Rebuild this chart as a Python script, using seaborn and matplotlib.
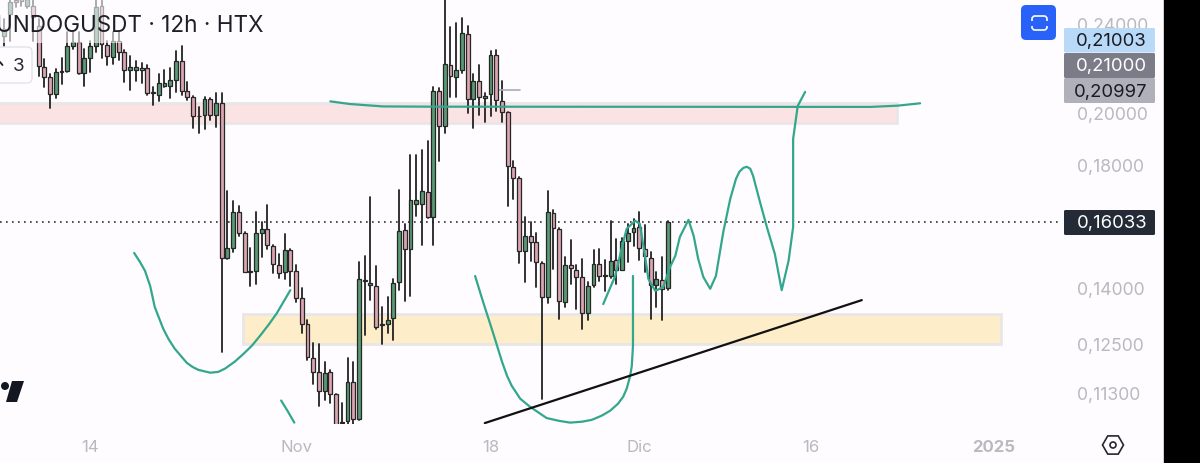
import numpy as np
import pandas as pd
import seaborn as sns
import matplotlib.pyplot as plt
from matplotlib.patches import Rectangle, FancyBboxPatch, Polygon, RegularPolygon, Circle

# candles, 12h, one value per bar
opens = [.2340,.2448,.2519,.2524,.2489,.2489,.2389,.2197,.2153,.2079,.2175,.2180,.2293,.2311,.2171,.2238,.2293,.2489,.2297,.2242,
         .2316,.2265,.2184,.2184,.2193,.2193,.2084,.2075,.2114,.2114,.2140,.2224,.2092,.2067,.1988,.1992,.2058,.1992,.2042,.1488,
         .1519,.1634,.1566,.1448,.1448,.1566,.1579,.1526,.1467,.1445,.1513,.1449,.1370,.1301,.1213,.1178,.1133,.1178,.1126,.1064,
         .1066,.1155,.1071,.1419,.1407,.1404,.1300,.1301,.1316,.1416,.1574,.1514,.1662,.1661,.1701,.1617,.2090,.1948,.2208,.2154,
         .2183,.2350,.2058,.2134,.2061,.2079,.2253,.2051,.2003,.1793,.1750,.1508,.1556,.1537,.1473,.1373,.1630,.1579,.1361,.1465,
         .1453,.1430,.1330,.1408,.1470,.1436,.1434,.1480,.1453,.1540,.1570,.1584,.1516,.1487,.1408,.1423,.1399]
highs = [.2423,.2524,.2524,.2530,.2530,.2524,.2423,.2233,.2166,.2188,.2238,.2359,.2359,.2359,.2279,.2316,.2524,.2524,.2316,.2359,
         .2359,.2274,.2247,.2224,.2215,.2206,.2110,.2166,.2184,.2193,.2270,.2293,.2131,.2071,.2025,.2067,.2062,.2084,.2084,.1706,
         .1671,.1655,.1568,.1519,.1634,.1601,.1658,.1527,.1500,.1563,.1514,.1465,.1399,.1312,.1251,.1249,.1203,.1184,.1127,.1107,
         .1214,.1204,.1475,.1495,.1685,.1462,.1347,.1374,.1425,.1710,.1595,.1837,.1837,.1855,.1888,.2108,.2104,.2560,.2382,.2403,
         .2427,.2387,.2166,.2208,.2083,.2272,.2276,.2137,.2005,.1812,.1754,.1617,.1602,.1565,.1474,.1707,.1642,.1580,.1492,.1542,
         .1467,.1485,.1416,.1511,.1514,.1482,.1604,.1547,.1549,.1595,.1611,.1633,.1592,.1507,.1445,.1490,.1604]
lows = [.2293,.2316,.2484,.2489,.2479,.2316,.2157,.2110,.2021,.2062,.2122,.2175,.2279,.2166,.2114,.2175,.2265,.2238,.2206,.2211,
        .2229,.2131,.2097,.2135,.2127,.2075,.2033,.2050,.2110,.2062,.2088,.2075,.2054,.1940,.1921,.1936,.1972,.1944,.1229,.1486,
        .1507,.1557,.1446,.1405,.1411,.1491,.1516,.1443,.1427,.1425,.1404,.1360,.1277,.1209,.1151,.1100,.1114,.1107,.1050,.1048,
        .1060,.1060,.1069,.1272,.1365,.1287,.1249,.1277,.1259,.1394,.1363,.1376,.1620,.1529,.1613,.1529,.1814,.1920,.2065,.2068,
        .2171,.1998,.1939,.1993,.1963,.1987,.2010,.1963,.1655,.1678,.1473,.1417,.1478,.1403,.1116,.1357,.1455,.1314,.1346,.1411,
        .1341,.1286,.1310,.1401,.1418,.1390,.1428,.1411,.1453,.1475,.1526,.1480,.1447,.1314,.1347,.1310,.1394]
closes = [.2374,.2509,.2509,.2514,.2524,.2433,.2202,.2153,.2079,.2175,.2179,.2293,.2311,.2171,.2238,.2293,.2484,.2302,.2247,.2316,
          .2265,.2184,.2197,.2197,.2184,.2084,.2086,.2127,.2127,.2140,.2224,.2092,.2067,.1988,.1986,.2058,.1992,.2042,.1488,.1519,
          .1634,.1566,.1447,.1447,.1566,.1579,.1528,.1470,.1443,.1513,.1449,.1371,.1301,.1216,.1179,.1134,.1177,.1127,.1056,.1062,
          .1155,.1071,.1425,.1421,.1413,.1293,.1298,.1312,.1413,.1573,.1514,.1675,.1676,.1705,.1617,.2090,.1948,.2211,.2157,.2184,
          .2354,.2058,.2134,.2065,.2072,.2253,.2054,.2006,.1794,.1750,.1508,.1556,.1537,.1475,.1373,.1634,.1581,.1362,.1465,.1457,
          .1430,.1330,.1406,.1470,.1433,.1434,.1478,.1452,.1540,.1566,.1583,.1519,.1493,.1409,.1425,.1397,.1600]

# hand drawn teal lines (bar position, price)
curve_a_x = [22.7,23.7,24.6,25.5,26.3,27.1,27.8,28.7,29.8,31.9,32.9,33.9,36.0,37.4,38.6,40.3,41.8,43.3,44.7,46.2,47.6,48.8,50.0]
curve_a_y = [.1503,.1476,.1449,.1405,.1346,.1314,.1287,.1261,.1236,.1201,.1191,.1184,.1177,.1179,.1187,.1204,.1223,.1244,.1269,.1298,.1328,.1360,.1393]
curve_b_x = [48.4,49.5,50.7]
curve_b_y = [.1112,.1089,.1063]
curve_c_x = [82.3,83.7,85.5,87.0,87.9,88.7,90.2,91.9,93.4,94.8,96.9,98.9,101.0,102.7,104.4,105.9,107.3,108.2,108.8,109.4,109.7,109.9,109.9,109.9]
curve_c_y = [.1434,.1360,.1274,.1204,.1169,.1146,.1116,.1098,.1085,.1073,.1067,.1063,.1065,.1069,.1078,.1089,.1105,.1121,.1139,.1169,.1194,.1244,.1360,.1434]
curve_d_x = [104.7,106.8,107.9,108.8,110.3,111.1,112.0,112.6,113.8,115.2,116.4,117.3,118.1,119.6,120.5,121.3,122.2,123.4,
             124.4,125.7,126.9,127.9,128.5,129.2,129.8,130.4,130.9,132.1,133.3,134.7,135.9,137.1,137.9,137.9,138.7,140.0]
curve_d_y = [.1354,.1434,.1516,.1579,.1605,.1595,.1494,.1425,.1391,.1402,.1461,.1494,.1553,.1608,.1557,.1485,.1431,.1397,
             .1434,.1570,.1678,.1748,.1774,.1788,.1792,.1785,.1759,.1668,.1585,.1500,.1393,.1479,.1585,.1897,.2029,.2088]
curve_e_x = [57.0,60.4,66.2,74.4,151.4,156.1,160.1]
curve_e_y = [.2048,.2037,.2027,.2026,.2025,.2030,.2040]

trend_x = [84.0,149.9]
trend_y = [.1062,.1365]
mark_x = [86.1,90.2]
mark_y = [.2097,.2097]

# zones: first bar, last bar, low, high
red_zone = [-3,156.1,.1959,.2043]
yellow_zone = [41.7,174.2,.1248,.1326]
last_price = .1600

y_ticks = [.24,.20,.18,.14,.125,.113]
y_labels = ['0,24000','0,20000','0,18000','0,14000','0,12500','0,11300']
x_ticks = [15,51,85,111,141,173]
x_labels = ['14','Nov','18','Dic','16','2025']

BG = '#fefcfe'
TEAL = '#33a68e'
GREY = '#b9b9be'

sns.set_theme(style='white')
plt.rcParams['font.family'] = ['Inter', 'DejaVu Sans']

fig = plt.figure(figsize=(12, 4.64), dpi=100, facecolor=BG)
ax = fig.add_axes([0, 1 - 425 / 464, 1062 / 1200, 425 / 464], facecolor=BG)
ax.set_yscale('log')

# zones
for zone, face in [(red_zone, '#fce3e3'), (yellow_zone, '#fdeec9')]:
    ax.add_patch(Rectangle((zone[0], zone[2]), zone[1] - zone[0], zone[3] - zone[2],
                           facecolor=face, edgecolor='#e8e6e8', linewidth=2, zorder=1))

ax.axhline(last_price, color='#333333', linestyle=(0, (1, 2.6)), linewidth=1.2, zorder=2)

# wicks and bodies
df = pd.DataFrame({'open': opens, 'high': highs, 'low': lows, 'close': closes})
df['bar'] = df.index
wicks = df.melt(id_vars='bar', value_vars=['high', 'low'], value_name='price')
sns.lineplot(data=wicks, x='bar', y='price', units='bar', estimator=None, sort=False,
             color='#222222', linewidth=1.3, zorder=3, legend=False, ax=ax)
colors = np.where(df['close'] >= df['open'], '#5a9a74', '#dba6b2')
bottoms = df[['open', 'close']].min(axis=1)
heights = (df['close'] - df['open']).abs()
ax.bar(df['bar'], heights, bottom=bottoms, width=0.68, color=colors,
       edgecolor='#262626', linewidth=0.9, zorder=4)

# drawings
for cx, cy in [(curve_a_x, curve_a_y), (curve_b_x, curve_b_y), (curve_c_x, curve_c_y),
               (curve_d_x, curve_d_y), (curve_e_x, curve_e_y)]:
    sns.lineplot(x=cx, y=cy, sort=False, estimator=None, color=TEAL, linewidth=1.6, zorder=5, ax=ax)
sns.lineplot(x=trend_x, y=trend_y, sort=False, estimator=None, color='#111111', linewidth=1.6, zorder=6, ax=ax)
sns.lineplot(x=mark_x, y=mark_y, sort=False, estimator=None, color='#a3adba', linewidth=1.2, zorder=3, ax=ax)

ax.set_xlim(-0.752, 184.9)
ax.set_ylim(.1060, .2524)
ax.set_xlabel('')
ax.set_ylabel('')
ax.yaxis.tick_right()
ax.set_yticks(y_ticks)
ax.set_yticklabels(y_labels)
ax.minorticks_off()
ax.set_xticks(x_ticks)
ax.set_xticklabels(x_labels)
ax.tick_params(axis='y', length=0, pad=10.5, labelsize=12.7, labelcolor=GREY)
ax.tick_params(axis='x', length=0, pad=11, labelsize=12, labelcolor=GREY)
ax.get_xticklabels()[-1].set_fontweight('bold')
sns.despine(ax=ax, left=True, bottom=True, right=True, top=True)

# app chrome on top, in pixels
ui = fig.add_axes([0, 0, 1, 1], facecolor='none', zorder=10)
ui.set_xlim(0, 1200)
ui.set_ylim(464, 0)
ui.axis('off')

ui.add_patch(Rectangle((0, 0), 268, 44, facecolor=BG, alpha=0.6, edgecolor='none'))
ui.text(-4.5, 26, 'UNDOGUSDT · 12h · HTX', fontsize=16.2, color='#1e1f26', va='center', ha='left')
ui.add_patch(FancyBboxPatch((-12, 48), 44, 36, boxstyle='round,pad=0,rounding_size=5',
                            facecolor=BG, edgecolor='#e2e2e8', linewidth=1))
ui.plot([0, 2.5], [63, 66], color='#1e1f26', linewidth=1.3)
ui.text(19, 66.5, '3', fontsize=13.5, color='#2a2b33', ha='center', va='center')

# tradingview logo
ui.add_patch(Circle((5, 387), 4, facecolor='#131722', edgecolor='none'))
ui.add_patch(Polygon([(12, 382), (24, 382), (17, 403), (6, 403)], facecolor='#131722', edgecolor='none'))

# blue button
ui.add_patch(FancyBboxPatch((1021, 6), 35, 35, boxstyle='round,pad=0,rounding_size=5',
                            facecolor='#2962f8', edgecolor='none'))
ui.add_patch(FancyBboxPatch((1032, 17), 15, 14, boxstyle='round,pad=0,rounding_size=3',
                            facecolor='none', edgecolor='white', linewidth=1.2))
ui.add_patch(Rectangle((1030, 21.5), 20, 5, facecolor='#2962f8', edgecolor='none'))

# price boxes
boxes = [(29, 53.5, '#b9d9f9', '0,21003', '#1a1a22'), (54, 79, '#7c7c88', '0,21000', 'white'),
         (79, 104, '#b0b0ba', '0,20997', '#1a1a22'), (211, 236, '#242a36', '0,16033', 'white')]
for top, bottom, face, label, tc in boxes:
    ui.add_patch(FancyBboxPatch((1064, top), 91, bottom - top, boxstyle='round,pad=0,rounding_size=1.5',
                                facecolor=face, edgecolor='none'))
    ui.text(1147, (top + bottom) / 2 + 0.5, label, fontsize=13.3, color=tc, ha='right', va='center')

# settings hexagon
ui.add_patch(RegularPolygon((1113, 446), 6, radius=10.5, orientation=np.pi / 6, facecolor='none',
                            edgecolor='#26272e', linewidth=1.2))
ui.add_patch(Circle((1113, 446), 3, facecolor='none', edgecolor='#26272e', linewidth=1.2))

# black strip on the right
ui.add_patch(Rectangle((1163, 0), 37, 464, facecolor='black', edgecolor='none'))
ui.plot([1162.5, 1162.5], [0, 464], color='#d6d6da', linewidth=0.7)

fig.savefig('out.png', dpi=100, facecolor=BG)
